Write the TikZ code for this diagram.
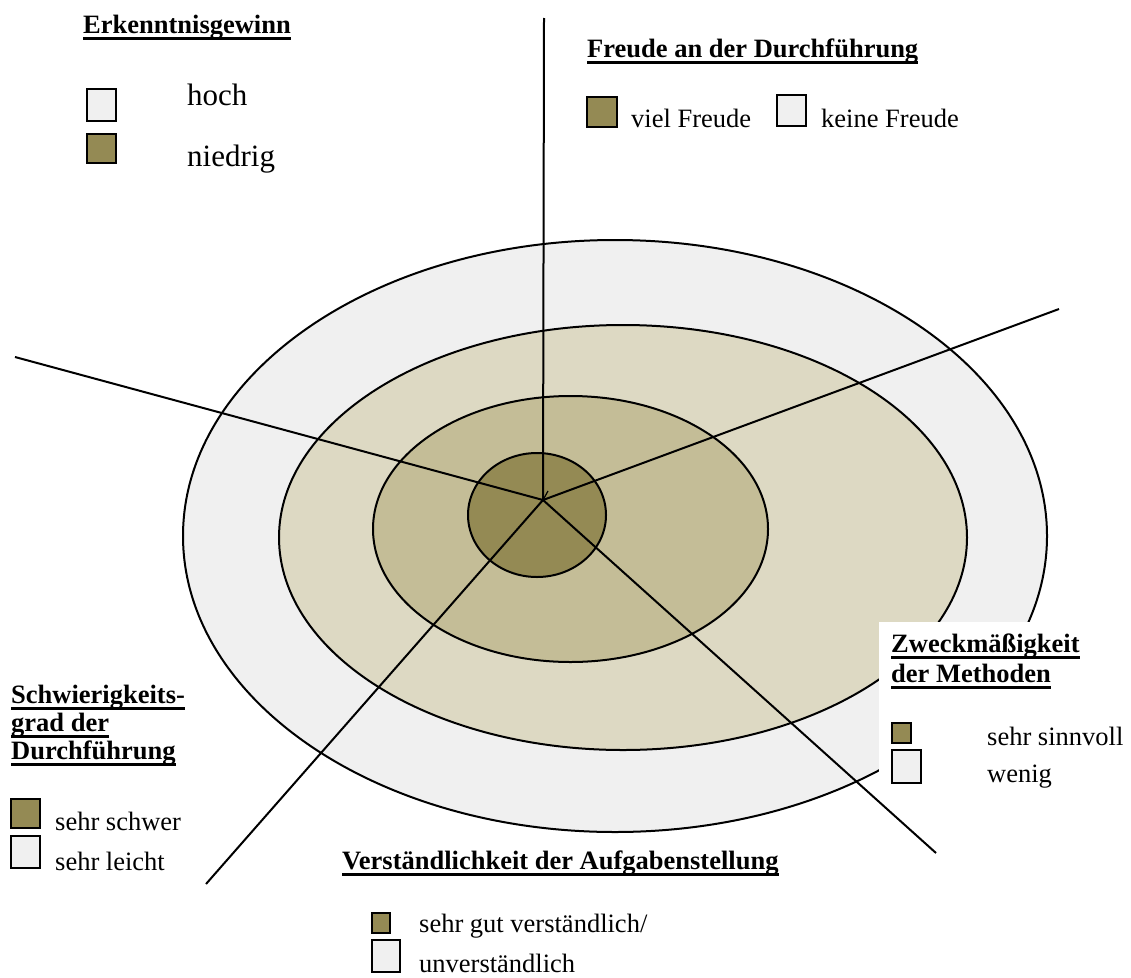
\documentclass[tikz,border=0pt]{standalone}
\usepackage{fontspec}
\setmainfont{Liberation Serif}
\definecolor{lightgr}{HTML}{F0F0F0}
\definecolor{beigeA}{HTML}{DDD9C3}
\definecolor{beigeB}{HTML}{C4BD97}
\definecolor{olive}{HTML}{948A54}
\newcommand\myul[1]{\setbox0\hbox{#1}\rlap{\rule[-6.5pt]{\wd0}{2.8pt}}\box0}
\begin{document}
\begin{tikzpicture}[x=1pt,y=-1pt,
  ring/.style={draw=black,line width=2pt},
  spoke/.style={draw=black,line width=2pt},
  txt/.style={anchor=base west,inner sep=0pt,font=\fontsize{26.5}{29}\selectfont},
  big/.style={anchor=base west,inner sep=0pt,font=\fontsize{31}{34}\selectfont},
  head/.style={anchor=base west,inner sep=0pt,align=left,font=\fontsize{26.5}{29}\selectfont\bfseries},
  lbox/.style={draw=black,line width=1.6pt,anchor=north west,inner sep=0pt,outer sep=0pt}
]
\useasboundingbox (0,0) rectangle (1131,977);
% rings
\fill[lightgr] (615,536) ellipse [x radius=432, y radius=296];
\draw[ring] (615,536) ellipse [x radius=432, y radius=296];
\fill[beigeA] (623,537.5) ellipse [x radius=344, y radius=212.5];
\draw[ring] (623,537.5) ellipse [x radius=344, y radius=212.5];
\fill[beigeB] (570.5,529) ellipse [x radius=197.5, y radius=133];
\draw[ring] (570.5,529) ellipse [x radius=197.5, y radius=133];
\fill[olive] (537,515) ellipse [x radius=69, y radius=62];
\draw[ring] (537,515) ellipse [x radius=69, y radius=62];
% white text-box ground of the Zweckmaessigkeit legend
\fill[white] (879,622) rectangle (1131,800);
% spokes
\coordinate (c) at (543,500);
\coordinate (eN) at (544,18);
\coordinate (eNE) at (1059,309);
\coordinate (eW) at (15,357);
\coordinate (eSW) at (206,884);
\coordinate (eSE) at (936,853);
\coordinate (tick) at (548,491);
\draw[spoke] (c) -- (eN);
\draw[spoke] (c) -- (eNE);
\draw[spoke] (c) -- (eW);
\draw[spoke] (c) -- (eSW);
\draw[spoke] (c) -- (eSE);
\draw[line width=1.2pt] (c) -- (tick);
% Erkenntnisgewinn
\node[head] (hE) at (83,33) {\myul{Erkenntnisgewinn}};
\node[lbox,fill=lightgr,minimum width=29,minimum height=32] (bE1) at (87,89) {};
\node[lbox,fill=olive,minimum width=29,minimum height=29] (bE2) at (87,134) {};
\node[big] (tE1) at (187,105) {hoch};
\node[big] (tE2) at (187,166) {niedrig};
% Freude
\node[head] (hF) at (587,57) {\myul{Freude an der Durchführung}};
\node[lbox,fill=olive,minimum width=30,minimum height=30] (bF1) at (587,97) {};
\node[txt] (tF1) at (631,127) {viel Freude};
\node[lbox,fill=lightgr,minimum width=29,minimum height=31] (bF2) at (777,95) {};
\node[txt] (tF2) at (821,127) {keine Freude};
% Zweckmaessigkeit
\node[head] (hZ1) at (891,652) {\myul{Zweckmäßigkeit}};
\node[head] (hZ2) at (891,682) {\myul{der Methoden}};
\node[lbox,fill=olive,minimum width=19,minimum height=20] (bZ1) at (892,723) {};
\node[lbox,fill=lightgr,minimum width=29,minimum height=33] (bZ2) at (892,750) {};
\node[txt] (tZ1) at (987,745) {sehr sinnvoll};
\node[txt] (tZ2) at (987,782) {wenig};
% Schwierigkeitsgrad
\node[head] (hS1) at (11,703) {\myul{Schwierigkeits-}};
\node[head] (hS2) at (11,731) {\myul{grad der}};
\node[head] (hS3) at (11,759) {\myul{Durchführung}};
\node[lbox,fill=olive,minimum width=29,minimum height=29] (bS1) at (11,799) {};
\node[lbox,fill=lightgr,minimum width=29,minimum height=32] (bS2) at (11,836) {};
\node[txt] (tS1) at (55,830) {sehr schwer};
\node[txt] (tS2) at (55,870) {sehr leicht};
% Verstaendlichkeit
\node[head] (hV) at (342,869) {\myul{Verständlichkeit der Aufgabenstellung}};
\node[lbox,fill=olive,minimum width=18,minimum height=20] (bV1) at (372,913) {};
\node[lbox,fill=lightgr,minimum width=28,minimum height=32] (bV2) at (372,940) {};
\node[txt] (tV1) at (419,932) {sehr gut verständlich/};
\node[txt] (tV2) at (419,972) {unverständlich};
\end{tikzpicture}
\end{document}
